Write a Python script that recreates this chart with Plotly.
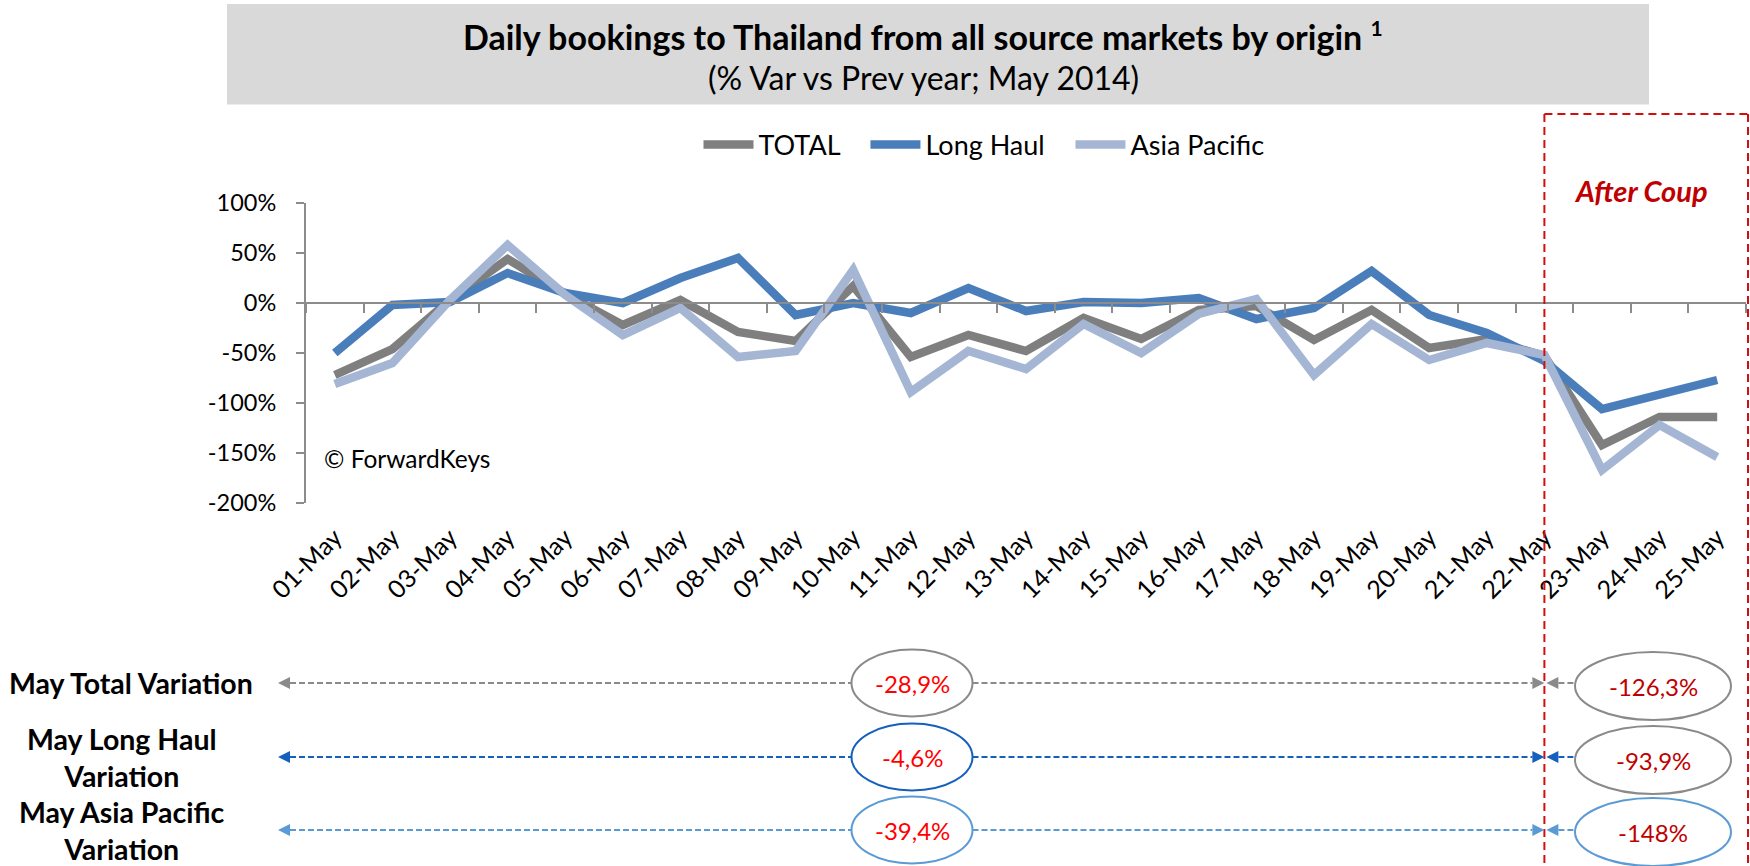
import plotly.graph_objects as go

# ---------------- data ----------------
days = ["01-May", "02-May", "03-May", "04-May", "05-May", "06-May", "07-May", "08-May",
        "09-May", "10-May", "11-May", "12-May", "13-May", "14-May", "15-May", "16-May",
        "17-May", "18-May", "19-May", "20-May", "21-May", "22-May", "23-May", "24-May", "25-May"]
total = [-72, -46, 3, 44, 9, -22, 3, -29, -38, 17, -54, -32, -48, -15, -36, -7,
         -3, -37, -7, -45, -36, -53, -142, -114, -114]
long_haul = [-50, -2, 1, 30, 10, 0, 25, 45, -12, 0, -10, 15, -8, 1, 0, 5,
             -16, -5, 32, -12, -30, -58, -106, -92, -77]
asia_pacific = [-81, -60, 3, 58, 8, -32, -5, -54, -48, 33, -89, -48, -66, -21, -50, -11,
                4, -72, -21, -57, -40, -52, -167, -122, -154]

series_names = ["TOTAL", "Long Haul", "Asia Pacific"]
y_ticks = [100, 50, 0, -50, -100, -150, -200]

row_labels = ["May Total Variation", "May Long Haul<br>Variation", "May Asia Pacific<br>Variation"]
may_variation = ["-28,9%", "-4,6%", "-39,4%"]
after_coup_variation = ["-126,3%", "-93,9%", "-148%"]

# ---------------- styles ----------------
FONT = "Lato, 'Open Sans', sans-serif"
W, H = 1750, 866
L, R, T, B = 306, 1746, 203, 503
series_colors = ["#7F7F7F", "#4A7EBB", "#A5B6D4"]
row_colors = ["#8A8A8A", "#1560BD", "#5B9BD5"]
right_ell_colors = ["#8A8A8A", "#8A8A8A", "#5B9BD5"]
AXIS_COLOR = "#8C8C8C"
RED = "#D01010"


def px2x(px):
    return (px - L) / (R - L)


def px2y(py):
    return (B - py) / (B - T)


def text_ann(x, y, text, size, color="black", xanchor="center"):
    return dict(xref="paper", yref="paper", x=px2x(x), y=px2y(y), text=text,
                showarrow=False, xanchor=xanchor, yanchor="middle",
                font=dict(family=FONT, size=size, color=color))


fig = go.Figure()
legend_names = ["TOTAL&nbsp;&nbsp;&nbsp;", "Long Haul&nbsp;&nbsp;&nbsp;", "Asia Pacific"]
for name, vals, col in zip(legend_names, [total, long_haul, asia_pacific], series_colors):
    fig.add_trace(go.Scatter(x=days, y=vals, name=name, mode="lines",
                             line=dict(color=col, width=8.5)))
# invisible trace carrying the zero-line category axis
fig.add_trace(go.Scatter(x=days, y=total, xaxis="x2", mode="lines", opacity=0,
                         line=dict(width=0), showlegend=False, hoverinfo="skip"))

ymin, ymax = -200, 100
zero_pos = (0 - ymin) / (ymax - ymin)

shapes = []
annotations = []

# title box
shapes.append(dict(type="rect", xref="paper", yref="paper",
                   x0=px2x(227), x1=px2x(1649), y0=px2y(104.5), y1=px2y(4),
                   fillcolor="#D9D9D9", line=dict(width=0), layer="below"))
annotations.append(text_ann(923, 36, "<b>Daily bookings to Thailand from all source markets by origin "
                                     "<sup><span style='font-size:21px'>1</span></sup></b>", 34))
annotations.append(text_ann(923, 77, "(% Var vs Prev year; May 2014)", 32))

# watermark
annotations.append(text_ann(322, 458, "© ForwardKeys", 24.5, xanchor="left"))

# After coup box
coup_idx = days.index("22-May")
xc = (coup_idx + 0.5) / len(days)
xr = px2x(1748)
ytop = px2y(114)
ybot = px2y(870)
box_line = dict(color=RED, width=2, dash="8px,5px")
shapes.append(dict(type="line", xref="paper", yref="paper", x0=xc, x1=xc, y0=ytop, y1=ybot, line=box_line))
shapes.append(dict(type="line", xref="paper", yref="paper", x0=xr, x1=xr, y0=ytop, y1=ybot, line=box_line))
shapes.append(dict(type="line", xref="paper", yref="paper", x0=xc, x1=xr, y0=ytop, y1=ytop, line=box_line))
annotations.append(text_ann(1641, 190, "<b><i>After Coup</i></b>", 29, color="#C00000"))

# bottom summary rows
row_y = [683, 757, 830]
row_y_right = [686, 760, 832]
label_x = [131, 122, 122]
cx_mid, w_mid, h_mid = 912, 121, 67
cx_right, w_right, h_right = 1653, 156, 68
x_line = L + (coup_idx + 0.5) * (R - L) / len(days)
AH = 12  # arrow head length
AW = 6   # arrow head half-width


def tri(tipx, tipy, direction):
    bx = tipx + AH * direction
    pts = [(tipx, tipy), (bx, tipy - AW), (bx, tipy + AW)]
    return "M " + " L ".join(f"{px2x(a)},{px2y(b)}" for a, b in pts) + " Z"


for i in range(3):
    yy = row_y[i]
    col = row_colors[i]
    annotations.append(text_ann(label_x[i], yy, f"<b>{row_labels[i]}</b>", 28.5))
    dl = dict(color=col, width=2, dash="6px,3px")
    # left arrow
    shapes.append(dict(type="line", xref="paper", yref="paper",
                       x0=px2x(278 + AH), x1=px2x(cx_mid - w_mid / 2), y0=px2y(yy), y1=px2y(yy), line=dl))
    shapes.append(dict(type="path", xref="paper", yref="paper", path=tri(278, yy, 1),
                       fillcolor=col, line=dict(width=0)))
    # right arrow to coup line
    shapes.append(dict(type="line", xref="paper", yref="paper",
                       x0=px2x(cx_mid + w_mid / 2), x1=px2x(x_line - AH), y0=px2y(yy), y1=px2y(yy), line=dl))
    shapes.append(dict(type="path", xref="paper", yref="paper", path=tri(x_line, yy, -1),
                       fillcolor=col, line=dict(width=0)))
    # arrow from right ellipse to coup line
    shapes.append(dict(type="line", xref="paper", yref="paper",
                       x0=px2x(x_line + 2 + AH), x1=px2x(cx_right - w_right / 2), y0=px2y(yy), y1=px2y(yy), line=dl))
    shapes.append(dict(type="path", xref="paper", yref="paper", path=tri(x_line + 2, yy, 1),
                       fillcolor=col, line=dict(width=0)))
    # middle ellipse
    shapes.append(dict(type="circle", xref="paper", yref="paper",
                       x0=px2x(cx_mid - w_mid / 2), x1=px2x(cx_mid + w_mid / 2),
                       y0=px2y(yy + h_mid / 2), y1=px2y(yy - h_mid / 2),
                       fillcolor="white", line=dict(color=col, width=2)))
    annotations.append(text_ann(cx_mid, yy, may_variation[i], 24, color="#FF0000"))
    # right ellipse
    yr = row_y_right[i]
    shapes.append(dict(type="circle", xref="paper", yref="paper",
                       x0=px2x(cx_right - w_right / 2), x1=px2x(cx_right + w_right / 2),
                       y0=px2y(yr + h_right / 2), y1=px2y(yr - h_right / 2),
                       fillcolor="white", line=dict(color=right_ell_colors[i], width=2)))
    annotations.append(text_ann(cx_right, yr, after_coup_variation[i], 24, color="#C00000"))

fig.update_layout(
    width=W, height=H,
    margin=dict(l=L, r=W - R, t=T, b=H - B, pad=0, autoexpand=False),
    paper_bgcolor="white", plot_bgcolor="white",
    font=dict(family=FONT, color="black"),
    showlegend=True,
    legend=dict(orientation="h", x=px2x(984), y=px2y(145), xanchor="center", yanchor="middle",
                font=dict(family=FONT, size=27, color="black"), bgcolor="rgba(0,0,0,0)",
                itemwidth=50, tracegroupgap=0),
    xaxis=dict(type="category", categoryorder="array", categoryarray=days,
               range=[-0.5, len(days) - 0.5], tickangle=-45, ticks="", showline=False,
               showgrid=False, zeroline=False, ticklabelstandoff=14,
               tickfont=dict(family=FONT, size=25, color="black")),
    xaxis2=dict(type="category", categoryorder="array", categoryarray=days, overlaying="x",
                anchor="free", position=zero_pos, side="bottom",
                range=[-0.5, len(days) - 0.5], showticklabels=False, ticks="outside",
                tickson="boundaries", ticklen=9, tickwidth=2, tickcolor=AXIS_COLOR,
                showline=True, linecolor=AXIS_COLOR, linewidth=2, showgrid=False, zeroline=False),
    yaxis=dict(range=[ymin, ymax], tickvals=y_ticks, ticktext=[f"{v}%" for v in y_ticks],
               ticks="outside", ticklen=8, tickwidth=2, tickcolor=AXIS_COLOR,
               showline=True, linecolor=AXIS_COLOR, linewidth=2, showgrid=False, zeroline=False,
               ticklabelstandoff=15,
               tickfont=dict(family=FONT, size=23.5, color="black")),
    shapes=shapes,
    annotations=annotations,
)

fig.write_html("out.html", config={"displayModeBar": False},
               post_script="document.body.style.margin='0px';")
